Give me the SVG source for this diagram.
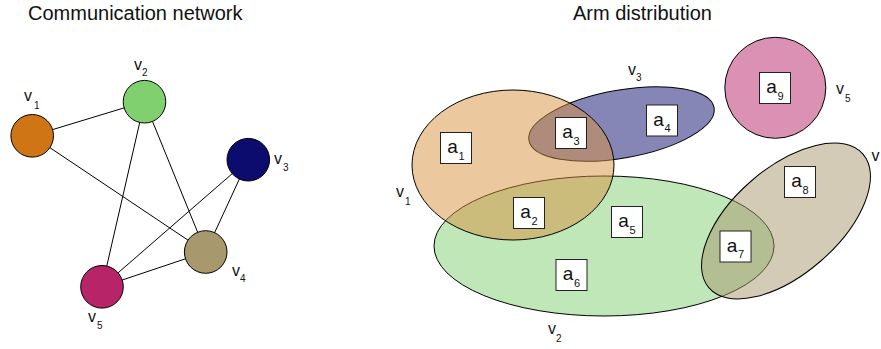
<svg xmlns="http://www.w3.org/2000/svg" width="881" height="349" viewBox="0 0 881 349">
<style>
text{font-family:"Liberation Sans",Arial,sans-serif;fill:#111}
.title{font-size:20px}
.vl{font-size:16px}
.sub{font-size:10px}
.node{stroke:#000;stroke-width:1}
.edge{stroke:#000;stroke-width:1;fill:none}
.set{stroke:#000;stroke-width:1;fill-opacity:0.5}
.box{fill:#fff;stroke:#222;stroke-width:1}
.al{font-size:19px}
.as{font-size:11px}
</style>
<rect width="881" height="349" fill="#fff"/>
<text class="title" x="28" y="20">Communication network</text>
<text class="title" x="573" y="20">Arm distribution</text>

<g id="connectors">
<line class="edge" x1="32.2" y1="135.8" x2="144.5" y2="101.7"/>
<line class="edge" x1="32.2" y1="135.8" x2="205.7" y2="252"/>
<line class="edge" x1="144.5" y1="101.7" x2="102" y2="286.8"/>
<line class="edge" x1="144.5" y1="101.7" x2="205.7" y2="252"/>
<line class="edge" x1="248.3" y1="159.7" x2="102" y2="286.8"/>
<line class="edge" x1="248.3" y1="159.7" x2="205.7" y2="252"/>
<line class="edge" x1="205.7" y1="252" x2="102" y2="286.8"/>
</g>

<g id="node-v1"><circle class="node" cx="32.2" cy="135.8" r="21.3" fill="#D07515"/><text class="vl" x="24" y="101">v<tspan class="sub" dx="2" dy="8">1</tspan></text></g>
<g id="node-v2"><circle class="node" cx="144.5" cy="101.7" r="21.3" fill="#80D070"/><text class="vl" x="134" y="70">v<tspan class="sub" dy="6">2</tspan></text></g>
<g id="node-v3"><circle class="node" cx="248.3" cy="159.7" r="21.3" fill="#0C0C6E"/><text class="vl" x="274" y="164">v<tspan class="sub" dx="1" dy="7">3</tspan></text></g>
<g id="node-v4"><circle class="node" cx="205.7" cy="252" r="21.3" fill="#A8986E"/><text class="vl" x="232" y="276">v<tspan class="sub" dy="6">4</tspan></text></g>
<g id="node-v5"><circle class="node" cx="102" cy="286.8" r="21.3" fill="#B82468"/><text class="vl" x="88" y="322">v<tspan class="sub" dx="1" dy="6.5">5</tspan></text></g>

<g id="set-v2"><ellipse class="set" cx="604" cy="246" rx="170" ry="70" fill="#80D070"/><text class="vl" x="548" y="333.5">v<tspan class="sub" dy="8">2</tspan></text></g>
<g id="set-v4"><ellipse class="set" cx="786" cy="221" rx="102" ry="53" transform="rotate(-41 786 221)" fill="#A8986E"/><text class="vl" x="871.5" y="161">v</text></g>
<g id="set-v3"><ellipse class="set" cx="621.5" cy="124" rx="94" ry="34" transform="rotate(-10 621.5 124)" fill="#0C0C6E"/><text class="vl" x="628" y="75">v<tspan class="sub" dy="6">3</tspan></text></g>
<g id="set-v5"><circle class="set" cx="775.3" cy="87.8" r="50.5" fill="#B82468"/><text class="vl" x="836" y="93.5">v<tspan class="sub" dx="1" dy="8">5</tspan></text></g>
<g id="set-v1"><ellipse class="set" cx="513" cy="165" rx="101" ry="75" fill="#DA9240"/><text class="vl" x="396" y="197">v<tspan class="sub" dx="1" dy="7.5">1</tspan></text></g>

<g id="arm-a1"><rect class="box" x="440.5" y="132.5" width="31" height="31"/><text class="al" x="447.3" y="153.2">a<tspan class="as" dx="0.5" dy="6.5">1</tspan></text></g>
<g id="arm-a2"><rect class="box" x="513.5" y="197.5" width="31" height="31"/><text class="al" x="520.3" y="218.2">a<tspan class="as" dx="0.5" dy="6.5">2</tspan></text></g>
<g id="arm-a3"><rect class="box" x="555.5" y="117.5" width="31" height="31"/><text class="al" x="562.3" y="138.2">a<tspan class="as" dx="0.5" dy="6.5">3</tspan></text></g>
<g id="arm-a4"><rect class="box" x="646.5" y="105" width="31" height="31"/><text class="al" x="653.3" y="125.7">a<tspan class="as" dx="0.5" dy="6.5">4</tspan></text></g>
<g id="arm-a5"><rect class="box" x="611.5" y="206.5" width="31" height="31"/><text class="al" x="618.3" y="227.2">a<tspan class="as" dx="0.5" dy="6.5">5</tspan></text></g>
<g id="arm-a6"><rect class="box" x="556" y="259.5" width="31" height="31"/><text class="al" x="562.8" y="280.2">a<tspan class="as" dx="0.5" dy="6.5">6</tspan></text></g>
<g id="arm-a7"><rect class="box" x="720" y="231" width="31" height="31"/><text class="al" x="726.8" y="251.7">a<tspan class="as" dx="0.5" dy="6.5">7</tspan></text></g>
<g id="arm-a8"><rect class="box" x="784.5" y="166.5" width="31" height="31"/><text class="al" x="791.3" y="187.2">a<tspan class="as" dx="0.5" dy="6.5">8</tspan></text></g>
<g id="arm-a9"><rect class="box" x="759.5" y="72.5" width="31" height="31"/><text class="al" x="766.3" y="93.2">a<tspan class="as" dx="0.5" dy="6.5">9</tspan></text></g>
</svg>
